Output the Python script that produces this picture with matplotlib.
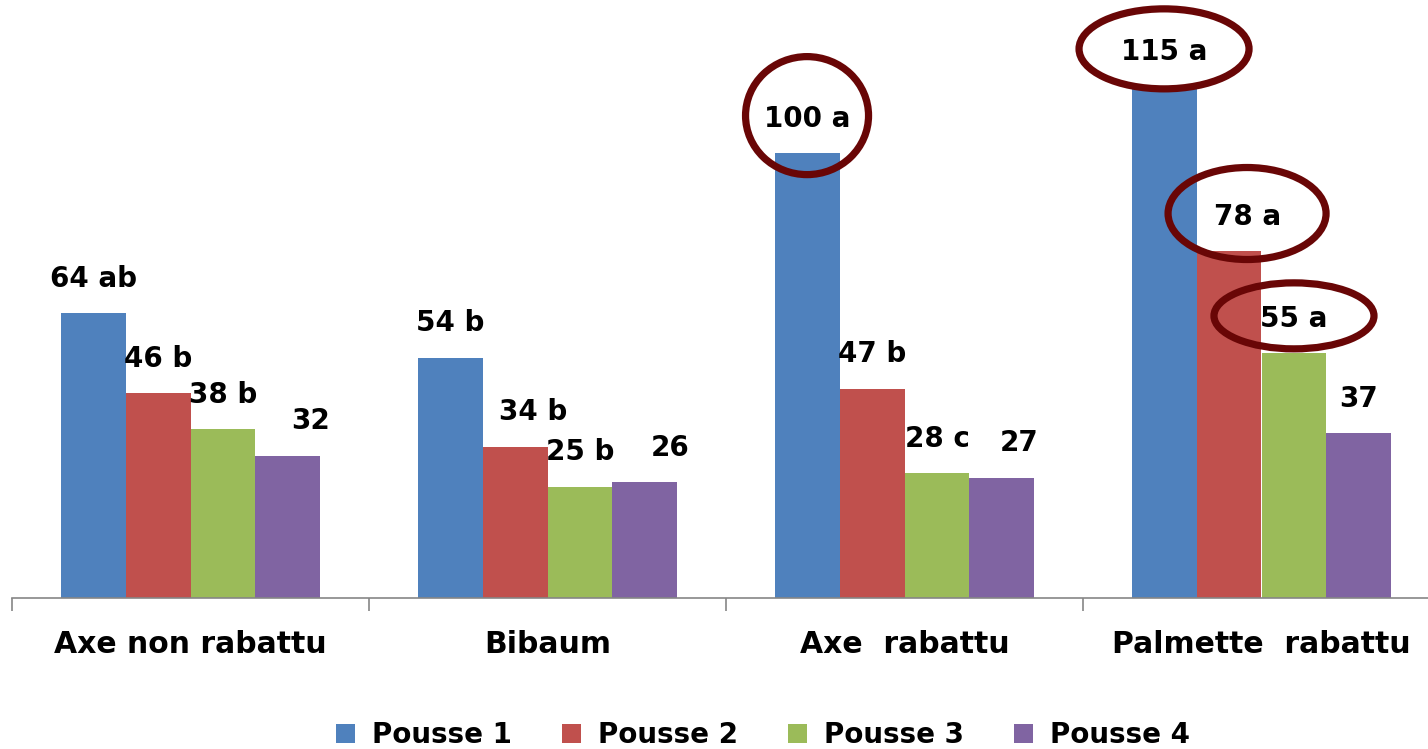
import matplotlib
matplotlib.use("Agg")
import matplotlib.pyplot as plt
from matplotlib.patches import Ellipse, Patch
import numpy as np

categories = ["Axe non rabattu", "Bibaum", "Axe  rabattu", "Palmette  rabattu"]
series = ["Pousse 1", "Pousse 2", "Pousse 3", "Pousse 4"]
pousse1 = [64, 54, 100, 115]
pousse2 = [46, 34, 47, 78]
pousse3 = [38, 25, 28, 55]
pousse4 = [32, 26, 27, 37]
labels1 = ["64 ab", "54 b", "100 a", "115 a"]
labels2 = ["46 b", "34 b", "47 b", "78 a"]
labels3 = ["38 b", "25 b", "28 c", "55 a"]
labels4 = ["32", "26", "27", "37"]

colors = ["#4F81BD", "#C0504D", "#9BBB59", "#8064A2"]
# small horizontal nudges (points) of label text, as in the original
label_dx = [[0, 0, 0, 0], [0, 13, 0, 13], [0, 0, 0, 0], [16, 18, 12, 0]]

W, H = 1428, 749
fig = plt.figure(figsize=(W / 100, H / 100), dpi=100)
plt.rcParams['font.family'] = ['DejaVu Sans']

ax_left, ax_right = 12, 1440
ax_bottom, ax_top = 598, 0
ax = fig.add_axes([ax_left / W, (H - ax_bottom) / H, (ax_right - ax_left) / W, (ax_bottom - ax_top) / H])
px_per_unit = 4.45
ax.set_ylim(0, (ax_bottom - ax_top) / px_per_unit)
ax.set_xlim(-0.5, len(categories) - 0.5)

all_vals = [pousse1, pousse2, pousse3, pousse4]
all_labels = [labels1, labels2, labels3, labels4]
bw = 0.182
x = np.arange(len(categories))
for i, (vals, labs) in enumerate(zip(all_vals, all_labels)):
    xs = x + (i - 1.5) * bw
    ax.bar(xs, vals, width=bw, color=colors[i], edgecolor="none", zorder=2)
    for j, (xx, v, lab) in enumerate(zip(xs, vals, labs)):
        ax.annotate(lab, (xx, v), xytext=(label_dx[i][j], 19), textcoords="offset points",
                    ha="center", va="baseline", fontsize=20, fontweight="bold", color="black", zorder=4)

# ellipses around highlighted labels, sized in pixels: (series, category) -> (w, h)
ell_sizes = {(0, 2): (123, 118), (0, 3): (170, 80), (1, 3): (158, 92), (2, 3): (160, 66)}
for (i, j), (ew, eh) in ell_sizes.items():
    xx = x[j] + (i - 1.5) * bw
    v = all_vals[i][j]
    disp = ax.transData.transform((xx, v))
    cx = disp[0] + label_dx[i][j] * 100 / 72
    cy = disp[1] + 19 * 100 / 72 + 11
    e = Ellipse((cx / W, cy / H), ew / W, eh / H, transform=fig.transFigure,
                fill=False, edgecolor="#690606", linewidth=5.2, zorder=5)
    fig.add_artist(e)

for s in ["top", "left", "right"]:
    ax.spines[s].set_visible(False)
ax.spines["bottom"].set_color("#868686")
ax.spines["bottom"].set_linewidth(1.2)
ax.set_yticks([])
ax.set_xticks(x)
ax.set_xticklabels(categories, fontsize=21.5, fontweight="bold")
ax.tick_params(axis="x", which="major", length=0, pad=23)
ax.set_xticks(np.arange(-0.5, len(categories)), minor=True)
ax.tick_params(axis="x", which="minor", length=9, width=1.2, color="#868686")

handles = [Patch(facecolor=c, edgecolor="none") for c in colors]
fig.legend(handles, series, loc="center", bbox_to_anchor=(763 / W, (H - 735) / H), ncol=4,
           frameon=False, prop={"size": 20, "weight": "bold"}, handlelength=0.7, handleheight=0.7,
           handletextpad=0.6, columnspacing=1.8)

fig.savefig("out.png", dpi=100)
